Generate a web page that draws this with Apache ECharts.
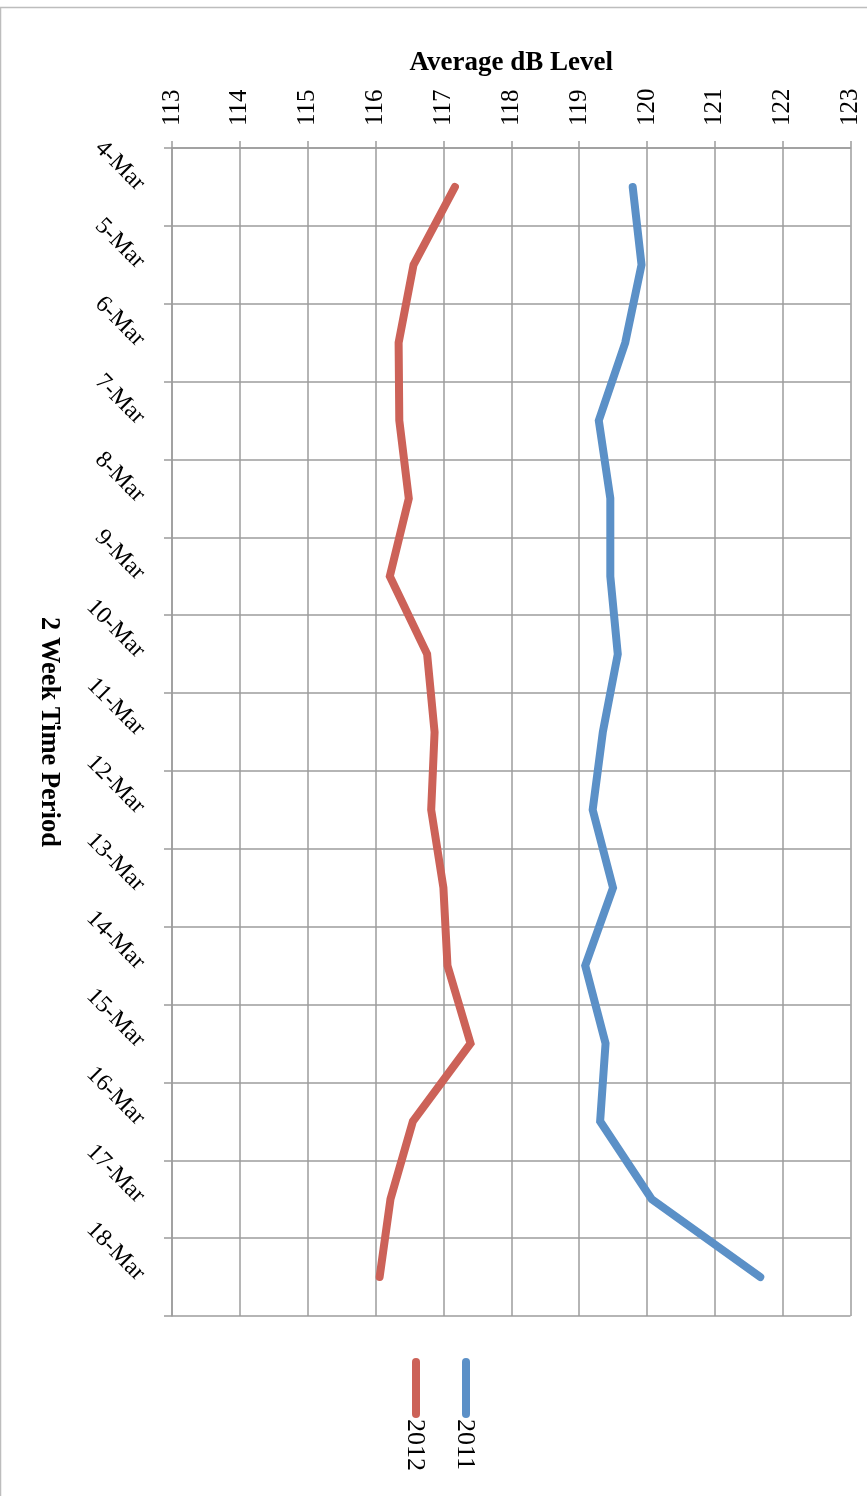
<!DOCTYPE html>
<html>
<head>
<meta charset="utf-8">
<script src="https://cdn.jsdelivr.net/npm/echarts@6/dist/echarts.min.js"></script>
<style>
  html, body { margin: 0; padding: 0; background: #fff; }
  #chart { width: 867px; height: 1496px; }
</style>
</head>
<body>
<div id="chart"></div>
<script>
// Daily average sound level, two consecutive years
const categories = ['4-Mar', '5-Mar', '6-Mar', '7-Mar', '8-Mar', '9-Mar', '10-Mar', '11-Mar',
  '12-Mar', '13-Mar', '14-Mar', '15-Mar', '16-Mar', '17-Mar', '18-Mar'];
const seriesNames = ['2011', '2012'];
const dB2011 = [119.79, 119.92, 119.68, 119.29, 119.46, 119.46, 119.57, 119.35,
  119.20, 119.50, 119.09, 119.39, 119.31, 120.07, 121.67];
const dB2012 = [117.17, 116.56, 116.34, 116.35, 116.49, 116.21, 116.76, 116.87,
  116.82, 117.00, 117.06, 117.40, 116.55, 116.22, 116.06];
const valueMin = 113;
const valueMax = 123;
const valueStep = 1;

const seriesColors = ['#5B90C7', '#CC6258'];
const FONT = '"Liberation Serif", "DejaVu Serif", serif';
const GRID_COLOR = '#9c9c9c';

const chart = echarts.init(document.getElementById('chart'), null, { renderer: 'canvas' });

// Legend drawn as vertical swatches with text running downward
const legendX = [466, 416];
const legendGraphics = seriesNames.map((name, i) => ({
  type: 'group',
  x: legendX[i],
  y: 1362,
  children: [
    {
      type: 'line',
      shape: { x1: 0, y1: 0, x2: 0, y2: 52 },
      style: { stroke: seriesColors[i], lineWidth: 8, lineCap: 'round' }
    },
    {
      type: 'text',
      x: -1,
      y: 57,
      rotation: -Math.PI / 2,
      style: {
        text: name,
        fill: '#000',
        font: '26px ' + FONT,
        textAlign: 'left',
        textVerticalAlign: 'middle'
      }
    }
  ]
}));

const option = {
  backgroundColor: '#fff',
  animation: false,
  grid: { left: 172, top: 148, width: 678.5, height: 1168, containLabel: false },
  xAxis: {
    type: 'value',
    position: 'top',
    min: valueMin,
    max: valueMax,
    interval: valueStep,
    name: 'Average dB Level',
    nameLocation: 'middle',
    nameGap: 71,
    nameTextStyle: { fontFamily: FONT, fontWeight: 'bold', fontSize: 27, color: '#000' },
    axisLine: { show: true, lineStyle: { color: GRID_COLOR, width: 1.5 } },
    axisTick: { show: true, length: 7, lineStyle: { color: GRID_COLOR, width: 1.5 } },
    axisLabel: { rotate: -90, margin: 22, fontFamily: FONT, fontSize: 25, color: '#000' },
    splitLine: { show: true, lineStyle: { color: GRID_COLOR, width: 1.5 } }
  },
  yAxis: {
    type: 'category',
    data: categories,
    inverse: true,
    boundaryGap: true,
    name: '2 Week Time Period',
    nameLocation: 'middle',
    nameGap: 110,
    nameRotate: -90,
    nameTextStyle: { fontFamily: FONT, fontWeight: 'bold', fontSize: 26.5, color: '#000' },
    axisLine: { show: true, lineStyle: { color: GRID_COLOR, width: 1.5 } },
    axisTick: { show: true, length: 8, lineStyle: { color: GRID_COLOR, width: 1.5 } },
    axisLabel: { rotate: -45, margin: 31, fontFamily: FONT, fontSize: 24, color: '#000', interval: 0 },
    splitLine: { show: true, interval: 0, lineStyle: { color: GRID_COLOR, width: 1.5 } }
  },
  series: [
    {
      name: seriesNames[0],
      type: 'line',
      data: dB2011,
      symbol: 'none',
      lineStyle: { color: seriesColors[0], width: 8, cap: 'round', join: 'miter' },
      itemStyle: { color: seriesColors[0] }
    },
    {
      name: seriesNames[1],
      type: 'line',
      data: dB2012,
      symbol: 'none',
      lineStyle: { color: seriesColors[1], width: 8, cap: 'round', join: 'miter' },
      itemStyle: { color: seriesColors[1] }
    }
  ],
  graphic: [
    {
      type: 'rect',
      shape: { x: 0.5, y: 7.5, width: 1000, height: 2000 },
      style: { fill: 'none', stroke: '#bdbdbd', lineWidth: 1.5 },
      silent: true
    },
    ...legendGraphics
  ]
};

chart.setOption(option);
</script>
</body>
</html>
